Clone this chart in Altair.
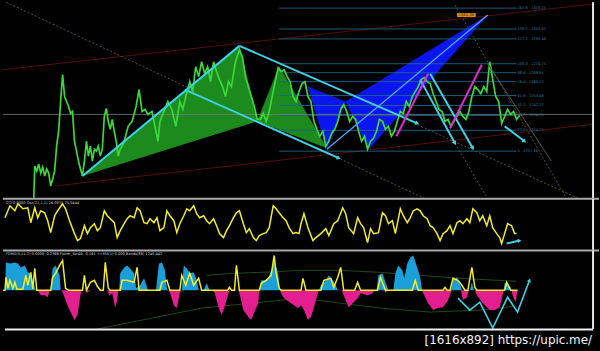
import math
import altair as alt
import pandas as pd

# ---------------- main panel data (bar index, price units) ----------------
price = [(31,3),(32,35),(34,30),(36,37),(38,28),(40,34),(42,25),(44,32),(46,28),(48,15),(50,22),(52,30),
         (54,55),(56,70),(58,100),(60,127),(62,105),(64,100),(66,95),(68,88),(70,90),(72,60),(74,50),(76,40),
         (78,32),(80,25),(82,40),(84,60),(86,45),(88,55),(90,40),(92,52),(94,50),(96,55),(98,45),(100,52),
         (102,85),(104,93),(106,80),(108,72),(110,82),(112,70),(114,60),(116,45),(118,52),(120,55),(122,60),
         (126,75),(130,80),(134,95),(137,112),(140,90),(143,92),(146,87),(150,90),(153,75),(156,60),(158,80),
         (162,90),(166,100),(170,92),(174,75),(178,100),(181,92),(184,105),(188,120),(191,110),(194,135),
         (197,125),(200,140),(203,128),(206,135),(209,120),(212,140),(215,130),(218,122),(221,115),(224,105),
         (227,120),(230,115),(234,140),(238,152),(241,145),(244,125),(247,115),(250,105),(253,95),(256,82),
         (259,82),(262,88),(265,80),(268,90),(271,105),(274,120),(277,134),(280,130),(283,132),(286,125),
         (289,120),(292,105),(295,100),(298,110),(301,118),(304,120),(307,105),(310,100),(313,80),(316,72),
         (319,65),(322,70),(325,55),(328,60),(331,68),(334,72),(337,80),(340,92),(343,97),(346,90),(349,80),
         (352,85),(355,82),(358,70),(361,60),(364,65),(367,52),(370,60),(373,63),(376,70),(379,82),(382,80),
         (385,72),(388,75),(391,65),(394,70),(397,80),(400,90),(403,88),(406,100),(409,95),(412,105),(415,110),
         (418,115),(421,122),(424,124),(427,120),(430,118),(433,108),(436,100),(439,92),(442,90),(445,80),
         (448,82),(451,75),(454,80),(457,85),(460,90),(463,85),(466,82),(469,90),(472,105),(475,115),(478,112),
         (481,108),(484,115),(487,110),(490,140),(493,122),(496,105),(499,100),(502,78),(505,85),(508,92),
         (511,87),(514,90),(517,82),(520,86)]
price_bar = [p[0] for p in price]
price_val = [p[1] for p in price]
current_price = 87

fib_levels = [161.8, 138.2, 127.2, 100.0, 88.6, 76.4, 61.8, 50.0, 38.2, 23.6, 0.0]
fib_val = [194, 173, 163, 138, 129, 120, 106, 96, 86, 71, 50]
fib_price_lo, fib_price_hi = 1207.98, 1276.75
fib_from, fib_to = 278, 517

green_tris = [[(80, 25), (238, 156), (256, 80)],
              [(256, 80), (278, 135), (326, 53)]]
blue_tris = [[(307, 115), (326, 52), (345, 100)],
             [(345, 100), (368, 52), (488, 187)]]

seg_cyan = dict(x=[80, 238, 183, 420, 430, 505], v=[25, 156, 112, 122, 128, 75],
                x2=[238, 417, 338, 455, 473, 525], v2=[156, 78, 43, 58, 53, 60])
cyan_arrowed = [1, 2, 3, 4, 5]
seg_magenta = dict(x=[396, 450], v=[65, 73], x2=[428, 482], v2=[128, 137])
seg_red = dict(x=[0, 53], v=[132, 15], x2=[593, 593], v2=[198, 77])
seg_dotted = dict(x=[3, 455, 410, 455], v=[200, 58, 80, 197], x2=[425, 488, 580, 567], v2=[2, 2, 2, 3])
seg_faint = dict(x=[488], v=[138], x2=[552], v2=[40])
seg_ad = dict(x=[326], v=[52], x2=[488], v2=[187])
target_box = dict(x=[457], v=[189], x2=[476], v2=[185], label=["1301.38"])

# ---------------- oscillator panel ----------------
osc = [(2,33),(7,45),(12,40),(15,47),(20,42),(25,43),(28,28),(32,43),(35,33),(38,40),(42,38),(45,30),(48,18),
       (52,35),(55,40),(60,47),(63,42),(67,30),(72,17),(75,10),(78,12),(82,25),(85,17),(88,23),(92,27),(95,20),
       (98,23),(102,40),(105,35),(108,32),(112,28),(115,13),(118,20),(122,27),(125,32),(128,35),(132,33),
       (135,43),(138,40),(142,28),(145,27),(148,32),(152,28),(155,33),(158,20),(162,23),(165,40),(168,35),
       (172,30),(175,18),(178,27),(182,35),(185,42),(188,40),(192,45),(195,37),(198,33),(202,35),(205,30),
       (208,27),(212,32),(215,25),(218,17),(222,13),(225,20),(228,25),(232,33),(235,38),(238,40),(242,27),
       (245,18),(248,22),(252,13),(255,10),(258,15),(262,17),(265,18),(268,23),(272,45),(275,42),(278,38),
       (282,33),(285,30),(288,23),(292,17),(295,18),(298,17),(300,27),(303,37),(307,23),(312,10),(315,13),
       (320,17),(325,22),(328,15),(333,27),(337,30),(342,43),(345,37),(348,23),(353,17),(357,33),(360,27),
       (363,23),(367,8),(370,22),(373,17),(378,18),(382,38),(385,35),(388,27),(392,30),(395,17),(400,42),
       (403,35),(407,28),(410,33),(413,40),(417,42),(420,40),(423,35),(427,32),(430,25),(433,23),(437,17),
       (440,10),(443,17),(447,20),(450,25),(453,17),(457,28),(460,30),(463,27),(467,32),(470,28),(473,42),
       (477,38),(480,30),(483,35),(487,25),(490,35),(493,23),(497,17),(500,13),(502,7),(505,17),(508,27),
       (512,25),(515,17),(517,17)]
osc_bar = [p[0] for p in osc]
osc_val = [p[1] for p in osc]
osc_arrow = dict(x=[507], v=[7], x2=[520], v2=[10])
osc_label = "CCI 0.0000  Osc(21,1,1) 16.0975 25.0444"

# ---------------- histogram panel ----------------
hist_pos = [(2,0),(3,28),(7,27),(12,28),(15,27),(18,23),(22,25),(25,18),(28,17),(32,3),(33,0),(48,0),(50,22),
            (53,25),(57,15),(58,0),(117,0),(118,17),(122,23),(125,25),(128,22),(132,17),(134,2),(138,5),
            (142,12),(145,3),(146,0),(154,0),(157,27),(160,28),(163,20),(165,2),(166,0),(180,0),(182,25),
            (185,22),(188,17),(192,18),(195,10),(197,0),(202,0),(205,7),(208,0),(258,0),(260,10),(263,10),
            (267,12),(270,20),(273,30),(277,17),(279,0),(318,0),(320,5),(325,10),(328,15),(332,10),(335,5),
            (337,0),(376,0),(378,15),(382,17),(385,8),(388,0),(393,0),(395,17),(398,25),(402,20),(404,12),
            (407,27),(410,33),(413,35),(417,23),(420,13),(422,0),(451,0),(453,10),(457,13),(460,7),(462,0),
            (470,0),(472,8),(474,0),(504,0),(505,7),(508,8),(511,3),(512,0)]
hist_neg = [(35,0),(38,-5),(42,-5),(45,-7),(47,0),(59,0),(60,-2),(65,-15),(68,-22),(72,-30),(75,-25),(78,-5),
            (79,0),(84,0),(85,-3),(87,0),(105,0),(107,-5),(110,-3),(113,-18),(115,-10),(116,0),(167,0),
            (168,-2),(172,-15),(175,-18),(178,-3),(179,0),(210,0),(213,-2),(217,-17),(220,-25),(223,-17),
            (227,-3),(228,0),(237,0),(238,-3),(242,-20),(247,-27),(250,-30),(253,-22),(257,-13),(258,0),
            (279,0),(280,-3),(283,-8),(290,-13),(297,-18),(300,-15),(303,-20),(307,-30),(310,-27),(313,-17),
            (317,-3),(318,0),(341,0),(343,-5),(348,-17),(352,-13),(357,-8),(360,-3),(367,-5),(372,-3),(374,0),
            (384,0),(385,-3),(387,0),(422,0),(423,-3),(428,-13),(433,-20),(438,-18),(443,-17),(448,-10),
            (451,-2),(452,0),(461,0),(463,-10),(467,-7),(469,0),(475,0),(477,-5),(483,-13),(490,-20),
            (495,-20),(500,-17),(503,-5),(504,0),(512,0),(513,-5),(516,-12),(518,0)]
hist_line = [(0,0),(2,0),(3,13),(5,2),(7,10),(10,2),(12,8),(14,1),(20,1),(23,15),(25,5),(28,18),(30,1),(32,22),
             (34,0),(48,0),(50,13),(53,17),(57,25),(60,30),(63,2),(66,0),(80,0),(82,15),(84,0),(88,8),(92,10),
             (95,4),(98,0),(101,0),(103,28),(106,2),(108,0),(118,0),(120,10),(125,10),(132,8),(135,23),(137,0),
             (158,0),(160,8),(165,10),(168,0),(178,0),(180,15),(184,5),(188,17),(192,5),(197,12),(200,0),
             (226,0),(228,3),(230,0),(233,0),(235,25),(238,0),(258,0),(260,7),(265,10),(270,15),(273,35),
             (275,17),(278,2),(280,0),(300,0),(302,12),(305,0),(320,0),(323,10),(330,12),(333,3),(337,13),
             (340,23),(343,0),(354,0),(357,8),(360,0),(377,0),(380,13),(383,5),(385,0),(412,0),(415,10),
             (418,0),(443,0),(445,3),(447,0),(450,0),(453,12),(458,10),(462,5),(465,0),(468,0),(470,12),
             (472,23),(475,3),(477,0),(505,0),(507,8),(511,0),(518,0)]
band_upper = [(205,15),(230,17),(260,18),(300,20),(340,20),(380,18),(420,15),(460,12),(517,9)]
band_lower = [(95,-39),(150,-28),(200,-18),(250,-13),(300,-8),(340,-13),(380,-18),(430,-22),(480,-20),(517,-16)]
zigzag = [(458,-8),(470,-20),(480,-12),(493,-38),(508,-7),(518,-22),(530,10)]
hist_label = "FDMA(5,11,2) 0.0000 -0.2366   Fisher_Yur4ik -0.161   <<MA(1) 0.000   Bands(89) 1240.442"

footer_text = "[1616x892] https://upic.me/"
frame_x = [594]

# ---------------- helpers ----------------
W = 600
xs = alt.Scale(domain=[0, W], nice=False, zero=False)
ys_main = alt.Scale(domain=[2, 200], nice=False, zero=False)
ys_osc = alt.Scale(domain=[0, 52], nice=False, zero=False)
ys_hist = alt.Scale(domain=[-39, 40], nice=False, zero=False)
ys_foot = alt.Scale(domain=[0, 22], nice=False, zero=False)


def X(f="x"):
    return alt.X(f"{f}:Q", scale=xs, axis=None)


def Y(ys, f="v"):
    return alt.Y(f"{f}:Q", scale=ys, axis=None)


def pairs_df(pairs):
    return pd.DataFrame({"x": [p[0] for p in pairs], "v": [p[1] for p in pairs]})


def rules(d, ys, color, width, dash=None, opacity=1.0):
    kw = dict(color=color, strokeWidth=width, opacity=opacity)
    if dash:
        kw["strokeDash"] = dash
    return alt.Chart(pd.DataFrame(d)).mark_rule(**kw).encode(
        x=X(), y=Y(ys), x2="x2:Q", y2="v2:Q")


def heads(d, ys, color, size, idx=None):
    df = pd.DataFrame(d)
    if idx is not None:
        df = df.iloc[idx]
    rows = []
    for r in df.itertuples():
        ang = math.degrees(math.atan2(-(r.v2 - r.v), r.x2 - r.x)) % 360
        rows.append(dict(x=r.x2, v=r.v2, a=ang))
    return alt.Chart(pd.DataFrame(rows)).mark_point(
        shape="triangle-right", filled=True, color=color, size=size, opacity=1).encode(
        x=X(), y=Y(ys), angle=alt.Angle("a:Q", scale=None))


def polys(tris, color):
    rows = []
    for i, tri in enumerate(tris):
        for j, (x, v) in enumerate(tri):
            rows.append(dict(t=i, k=j, x=x, v=v))
    return alt.Chart(pd.DataFrame(rows)).mark_line(
        fill=color, stroke=color, strokeWidth=0.5).encode(
        x=X(), y=Y(ys_main), detail="t:N", order="k:Q")


def frame(ys):
    return alt.Chart(pd.DataFrame({"x": frame_x})).mark_rule(
        color="#e8e8e8", strokeWidth=2).encode(x=X())


# ---------------- main panel ----------------
fib_df = pd.DataFrame({
    "x": [fib_from] * len(fib_levels), "x2": [fib_to] * len(fib_levels), "v": fib_val, "v2": fib_val,
    "label": [f"{l:.1f} - {fib_price_lo + l / 100 * (fib_price_hi - fib_price_lo):.2f}" if l else
              f"0 - {fib_price_lo:.2f}" for l in fib_levels]})
fib_df["lx"] = fib_to + 1

main_layers = [
    rules(seg_red, ys_main, "#5c1010", 0.9),
    rules(seg_dotted, ys_main, "#5e5230", 1, dash=[2, 2]),
    polys(green_tris, "#1d8a1d"),
    polys(blue_tris, "#0b16ee"),
    alt.Chart(fib_df).mark_rule(color="#1b6684", strokeWidth=0.9).encode(
        x=X(), y=Y(ys_main), x2="x2:Q", y2="v2:Q"),
    alt.Chart(fib_df).mark_text(align="left", baseline="middle", fontSize=3.6, color="#2a7a9a",
                                font="DejaVu Sans").encode(x=X("lx"), y=Y(ys_main), text="label:N"),
    alt.Chart(pd.DataFrame({"v": [current_price], "x": [0], "x2": [594]})).mark_rule(
        color="#7a7a7a", strokeWidth=0.8).encode(x=X(), x2="x2:Q", y=Y(ys_main)),
    alt.Chart(pd.DataFrame({"x": price_bar, "v": price_val})).mark_line(
        color="#3ad83a", strokeWidth=1.7).encode(x=X(), y=Y(ys_main)),
    rules(seg_ad, ys_main, "#55aaff", 1.2),
    rules(seg_faint, ys_main, "#4f5a48", 1),
    rules(seg_cyan, ys_main, "#3fd0e6", 2),
    heads(seg_cyan, ys_main, "#3fd0e6", 22, cyan_arrowed),
    rules(seg_magenta, ys_main, "#e02ad0", 2),
    alt.Chart(pd.DataFrame(target_box)).mark_rect(color="#d08a1e", cornerRadius=1).encode(
        x=X(), x2="x2:Q", y=Y(ys_main), y2="v2:Q"),
    alt.Chart(pd.DataFrame(target_box)).mark_text(fontSize=3.8, color="#3a2000", font="DejaVu Sans").encode(
        x=alt.X("xm:Q", scale=xs, axis=None), y=alt.Y("vm:Q", scale=ys_main, axis=None), text="label:N"
    ).transform_calculate(xm="(datum.x + datum.x2) / 2", vm="(datum.v + datum.v2) / 2"),
    frame(ys_main),
]
main = alt.layer(*main_layers).properties(width=W, height=198)

# ---------------- oscillator panel ----------------
osc_layers = [
    alt.Chart(pd.DataFrame({"v": [52]})).mark_rule(color="#a8a8a8", strokeWidth=2).encode(y=Y(ys_osc)),
    alt.Chart(pd.DataFrame({"x": [3], "v": [47.5], "label": [osc_label]})).mark_text(
        align="left", baseline="middle", fontSize=3.6, color="#cfcfcf", font="DejaVu Sans").encode(
        x=X(), y=Y(ys_osc), text="label:N"),
    alt.Chart(pd.DataFrame({"x": osc_bar, "v": osc_val})).mark_line(
        color="#f2ee22", strokeWidth=1.5).encode(x=X(), y=Y(ys_osc)),
    rules(osc_arrow, ys_osc, "#3fd0e6", 2),
    heads(osc_arrow, ys_osc, "#3fd0e6", 18),
    frame(ys_osc),
]
oscp = alt.layer(*osc_layers).properties(width=W, height=52)

# ---------------- histogram panel ----------------
zz = pairs_df(zigzag)
zz_seg = dict(x=[zigzag[-2][0]], v=[zigzag[-2][1]], x2=[zigzag[-1][0]], v2=[zigzag[-1][1]])
hist_layers = [
    alt.Chart(pd.DataFrame({"v": [40]})).mark_rule(color="#a8a8a8", strokeWidth=2).encode(y=Y(ys_hist)),
    alt.Chart(pd.DataFrame({"x": [3], "v": [36.5], "label": [hist_label]})).mark_text(
        align="left", baseline="middle", fontSize=3.6, color="#cfcfcf", font="DejaVu Sans").encode(
        x=X(), y=Y(ys_hist), text="label:N"),
    alt.Chart(pairs_df(band_upper)).mark_line(color="#1d4a1d", strokeWidth=1).encode(x=X(), y=Y(ys_hist)),
    alt.Chart(pairs_df(band_lower)).mark_line(color="#1d4a1d", strokeWidth=1).encode(x=X(), y=Y(ys_hist)),
    alt.Chart(pairs_df(hist_pos).assign(z=0)).mark_area(color="#1b9fd8", opacity=1).encode(
        x=X(), y=Y(ys_hist), y2="z:Q"),
    alt.Chart(pairs_df(hist_neg).assign(z=0)).mark_area(color="#e31e8e", opacity=1).encode(
        x=X(), y=Y(ys_hist), y2="z:Q"),
    alt.Chart(pairs_df(hist_line)).mark_line(color="#f2ee22", strokeWidth=1.5).encode(x=X(), y=Y(ys_hist)),
    alt.Chart(zz.assign(k=range(len(zz)))).mark_line(color="#3fd0e6", strokeWidth=1.6).encode(
        x=X(), y=Y(ys_hist), order="k:Q"),
    heads(zz_seg, ys_hist, "#3fd0e6", 18),
    frame(ys_hist),
]
histp = alt.layer(*hist_layers).properties(width=W, height=79)

# ---------------- footer ----------------
foot_layers = [
    alt.Chart(pd.DataFrame({"x": [2], "x2": [594], "v": [21.5]})).mark_rule(
        color="#f0f0f0", strokeWidth=2).encode(x=X(), x2="x2:Q", y=Y(ys_foot)),
    alt.Chart(pd.DataFrame({"x": [593], "v": [11], "label": [footer_text]})).mark_text(
        align="right", baseline="middle", fontSize=12, color="#f4f4f4", font="DejaVu Sans").encode(
        x=X(), y=Y(ys_foot), text="label:N"),
]
foot = alt.layer(*foot_layers).properties(width=W, height=22)

chart = alt.vconcat(main, oscp, histp, foot, spacing=0).properties(
    background="black", padding=0, bounds="flush"
).configure_view(stroke=None)

chart.save("out.html", embed_options={"renderer": "svg", "actions": False})
